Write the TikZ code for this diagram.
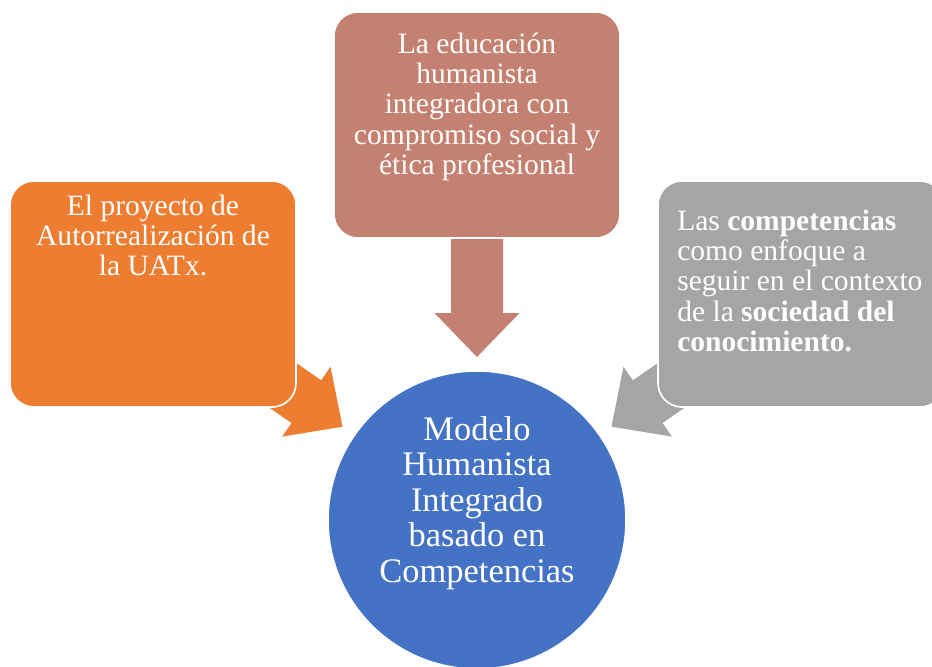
\documentclass[tikz,border=0pt]{standalone}
\usepackage{fontspec}
\setmainfont{Liberation Serif}
\usetikzlibrary{positioning}

\definecolor{orangepanel}{HTML}{ED7D31}
\definecolor{brownpanel}{HTML}{C48070}
\definecolor{graypanel}{HTML}{A5A5A5}
\definecolor{hubblue}{HTML}{4472C4}

% block arrow: colour, tip, direction
\newcommand{\blockarrow}[3]{%
  \fill[#1, shift={#2}, rotate=#3] (0,0) -- (-44,42.5) -- (-44,26) -- (-125,26)
    -- (-125,-26) -- (-44,-26) -- (-44,-42.5) -- cycle;}

\begin{document}
\begin{tikzpicture}[x=0.025cm, y=0.025cm,
  panel/.style = {rectangle, rounded corners=0.6cm, draw=white, line width=1.2pt,
                  minimum width=7.15cm, minimum height=5.65cm},
  paneltext/.style = {text=white, inner sep=0pt, font=\fontsize{21}{21.4}\selectfont},
  hub/.style = {circle, draw=white, line width=1.2pt, fill=hubblue, minimum size=7.45cm},
  hubtext/.style = {text=white, align=center, inner sep=0pt, font=\fontsize{24.5}{25.2}\selectfont}
]
\useasboundingbox (0,0) rectangle (932,666);

% Arrows towards the model
\blockarrow{orangepanel}{(342.5,239.3)}{-34.7}
\blockarrow{brownpanel}{(477,309)}{-90}
\blockarrow{graypanel}{(611.5,239.3)}{214.7}

% Panels
\node[panel, fill=brownpanel] (educacion) at (477,541) {};
\node[panel, fill=orangepanel] (proyecto) at (153,372) {};
\node[panel, fill=graypanel] (competencias) at (801,372) {};

\node[paneltext, anchor=north, align=center] (educaciontxt) at (477,633)
  {La educación\\ humanista\\ integradora con\\ compromiso social y\\ ética profesional};
\node[paneltext, anchor=north, align=center] (proyectotxt) at (153,471)
  {El proyecto de\\ Autorrealización de\\ la UATx.};
\node[paneltext, anchor=north west, align=left] (competenciastxt) at (677,456)
  {Las \textbf{competencias}\\ como enfoque a\\ seguir en el contexto\\ de la \textbf{sociedad del}\\ \textbf{conocimiento.}};

% Central model
\node[hub] (modelo) at (477,146) {};
\node[hubtext] (modelotxt) at (477,163)
  {Modelo\\ Humanista\\ Integrado\\ basado en\\ Competencias};

\end{tikzpicture}
\end{document}
